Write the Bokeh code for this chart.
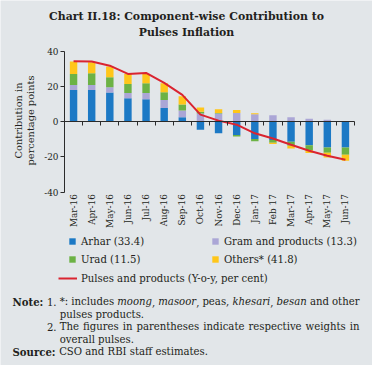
import glob, os, math
from bokeh.plotting import figure
from bokeh.models import Range1d, FixedTicker, Label, Legend, LegendItem, LinearAxis
from bokeh.embed import file_html
from bokeh.resources import INLINE

# ---------------- data ----------------
months = ["Mar-16", "Apr-16", "May-16", "Jun-16", "Jul-16", "Aug-16", "Sep-16", "Oct-16",
          "Nov-16", "Dec-16", "Jan-17", "Feb 17", "Mar-17", "Apr-17", "May-17", "Jun-17"]
arhar  = [18.0, 18.0, 16.5, 13.3, 12.7, 7.8, 2.5, -4.5, -6.6, -7.6, -9.8, -10.4, -11.4, -13.3, -14.6, -14.6]
gram   = [2.8, 2.8, 3.0, 3.0, 3.6, 4.5, 3.8, 4.7, 4.7, 4.9, 4.2, 3.6, 2.5, 1.7, 1.1, 0.2]
urad   = [6.3, 6.7, 5.7, 5.1, 5.5, 4.4, 3.4, 0.9, 0.3, -0.8, -1.3, -1.5, -2.3, -2.7, -3.0, -4.2]
others = [7.0, 6.2, 6.1, 5.7, 5.3, 5.1, 4.7, 2.5, 2.1, 1.7, 0.6, -0.8, -1.5, -1.7, -2.7, -3.4]
pulses = [34.3, 34.1, 31.8, 27.1, 27.7, 22.0, 15.2, 4.0, 0.6, -1.7, -6.6, -9.5, -13.1, -16.5, -19.3, -21.6]
series_names = ["Arhar (33.4)", "Gram and products (13.3)", "Urad (11.5)", "Others* (41.8)"]
line_name = "Pulses and products (Y-o-y, per cent)"
y_ticks = [-40, -20, 0, 20, 40]
title_lines = ["Chart II.18: Component-wise Contribution to", "Pulses Inflation"]
ylabel_lines = ["Contribution in", "percentage points"]

# ---------------- styles ----------------
BG = "#E2E6E9"
TXT = "#231F20"
AX = "#2b2b2b"
COLORS = ["#1C79C5", "#ABA6D6", "#6CB245", "#FFC61A"]
LINE_C = "#DA2430"
SERIF = "DejaVu Serif"
CW, CH = 372, 365

# font measuring (Pillow ships with bokeh)
def find_font(fname):
    for root in ["/usr/share/fonts", "/usr/local/share/fonts", os.path.expanduser("~/.fonts"),
                 os.path.expanduser("~/.local/share/fonts")]:
        hits = glob.glob(os.path.join(root, "**", fname), recursive=True)
        if hits:
            return hits[0]
    return None

_fonts = {}
try:
    from PIL import ImageFont
    for style, fn in [("normal", "DejaVuSerif.ttf"), ("bold", "DejaVuSerif-Bold.ttf"),
                      ("italic", "DejaVuSerif-Italic.ttf")]:
        path = find_font(fn)
        if path:
            _fonts[style] = ImageFont.truetype(path, 100)
except Exception:
    _fonts = {}

def tw(text, style="normal", size=1.0):
    f = _fonts.get(style)
    if f is not None:
        return f.getlength(text) * size / 100.0
    return len(text) * 0.6 * size * (1.08 if style == "bold" else 1.0)

body = 187.0 / tw(line_name, "normal", 1.0)
title_size = 275.0 / tw(title_lines[0], "bold", 1.0)
ylab_size = 90.0 / tw(ylabel_lines[1], "normal", 1.0)
tick_size = 33.0 / tw("Mar-16", "normal", 1.0)

# ---------------- geometry: frame = whole canvas ----------------
n = len(months)
x = list(range(n))
PX_L, PX_R = 64.0, 354.0          # pixel columns of the x extent (-0.5 .. n-0.5)
PY_T, PY_B = 50.7, 191.7          # pixel rows of y = 40 and y = -40
sx = (PX_R - PX_L) / n
sy = (PY_B - PY_T) / 80.0
x0 = -0.5 - PX_L / sx
y0 = 40 + PY_T / sy

def dx(px):
    return x0 + px / sx

def dy(py):
    return y0 - py / sy

p = figure(width=CW, height=CH, min_border=0,
           x_range=Range1d(x0, x0 + CW / sx), y_range=Range1d(y0 - CH / sy, y0),
           x_axis_type=None, y_axis_type=None,
           output_backend="svg", toolbar_location=None,
           background_fill_color=BG, border_fill_color=BG, outline_line_color=None)

# stacked bars (positive up, negative down)
pos = [0.0] * n
neg = [0.0] * n
rends = []
for vals, col in zip([arhar, gram, urad, others], COLORS):
    bottom, top = [], []
    for i, v in enumerate(vals):
        if v >= 0:
            bottom.append(pos[i]); pos[i] += v; top.append(pos[i])
        else:
            top.append(neg[i]); neg[i] += v; bottom.append(neg[i])
    r = p.vbar(x=x, bottom=bottom, top=top, width=0.41, fill_color=col, line_color=None)
    rends.append(r)

lr = p.line(x, pulses, line_color=LINE_C, line_width=2)

# y axis
yax = LinearAxis(fixed_location=-0.5, bounds=(y_ticks[0], y_ticks[-1]),
                 ticker=FixedTicker(ticks=y_ticks, minor_ticks=[]),
                 major_label_overrides={tk: str(tk) for tk in y_ticks},
                 major_tick_out=4, major_tick_in=0, minor_tick_out=0, minor_tick_in=0,
                 axis_line_color=AX, major_tick_line_color=AX, major_label_standoff=2,
                 major_label_text_font=SERIF, major_label_text_font_size=f"{tick_size:.2f}px",
                 major_label_text_color=TXT)
p.add_layout(yax, "left")

# zero line axis with ticks at category boundaries
bounds = [i - 0.5 for i in range(n + 1)]
zax = LinearAxis(fixed_location=0, bounds=(-0.5, n - 0.5),
                 ticker=FixedTicker(ticks=bounds, minor_ticks=[]),
                 major_label_text_font_size="0px", major_label_text_alpha=0,
                 major_tick_out=4, major_tick_in=0, minor_tick_out=0, minor_tick_in=0,
                 axis_line_color=AX, major_tick_line_color=AX)
p.add_layout(zax, "below")

# category label axis at the bottom
xax = LinearAxis(fixed_location=y_ticks[0], bounds=(-0.5, n - 0.5),
                 ticker=FixedTicker(ticks=x, minor_ticks=[]),
                 major_label_overrides={i: m for i, m in enumerate(months)},
                 major_label_orientation=math.pi / 2,
                 axis_line_color=None, major_tick_line_color=None, minor_tick_line_color=None,
                 major_tick_out=0, major_tick_in=0, major_label_standoff=2,
                 major_label_text_font=SERIF, major_label_text_font_size=f"{tick_size:.2f}px",
                 major_label_text_color=TXT)
p.add_layout(xax, "below")

# legends (screen units: from frame left / frame bottom)
leg_common = dict(background_fill_alpha=0, border_line_alpha=0, margin=0, padding=0,
                  label_text_font=SERIF, label_text_font_size=f"{body:.2f}px",
                  label_text_color=TXT, glyph_height=8, label_height=12)
leg1 = Legend(items=[LegendItem(label=nm, renderers=[r]) for nm, r in zip(series_names, rends)],
              orientation="horizontal", ncols=2, location=(68, CH - 235 - 30),
              glyph_width=8, label_standoff=5, label_width=124, spacing=6, **leg_common)
leg2 = Legend(items=[LegendItem(label=line_name, renderers=[lr])],
              orientation="horizontal", location=(58, CH - 272 - 12),
              glyph_width=19, label_standoff=4, spacing=0, **leg_common)
p.add_layout(leg1, "center")
p.add_layout(leg2, "center")

def put(text, xp, yp, style="normal", size=None, align="left", angle=0.0):
    p.add_layout(Label(x=dx(xp), y=dy(yp), text=text, text_font=SERIF,
                       text_font_size=f"{(size or body):.2f}px", text_font_style=style,
                       text_align=align, text_baseline="middle", text_color=TXT, angle=angle))

# title
put(title_lines[0], 186, 16, "bold", title_size, "center")
put(title_lines[1], 186, 32, "bold", title_size, "center")

# y axis title
put(ylabel_lines[0], 18, 120, "normal", ylab_size, "center", math.pi / 2)
put(ylabel_lines[1], 30, 120, "normal", ylab_size, "center", math.pi / 2)

# notes
def justify(tokens, xa, xb, yp):
    widths = [sum(tw(t, s, body) for t, s in tok) for tok in tokens]
    gap = (xb - xa - sum(widths)) / (len(tokens) - 1)
    xc = xa
    for tok, w in zip(tokens, widths):
        xx = xc
        for t, s in tok:
            put(t, xx, yp, s)
            xx += tw(t, s, body)
        xc += w + gap

N, I = "normal", "italic"
NOTE_X = 12
NUM_X = NOTE_X + tw("Note: ", "bold", body)
TEXT_X = NUM_X + tw("1. ", "normal", body)
RIGHT_X = 359
put("Note:", NOTE_X, 301, "bold")
put("1.", NUM_X, 301)
justify([[("*:", N)], [("includes", N)], [("moong", I), (",", N)], [("masoor", I), (",", N)],
         [("peas,", N)], [("khesari", I), (",", N)], [("besan", I)], [("and", N)], [("other", N)]],
        TEXT_X, RIGHT_X, 301)
put("pulses products.", TEXT_X, 313.5)
put("2.", NUM_X, 326)
justify([[(w, N)] for w in "The figures in parentheses indicate respective weights in".split()],
        TEXT_X, RIGHT_X, 326)
put("overall pulses.", TEXT_X, 338.5)
put("Source:", NOTE_X, 351, "bold")
put("CSO and RBI staff estimates.", NOTE_X + tw("Source: ", "bold", body), 351)

open("out.html", "w").write(file_html(p, INLINE))
